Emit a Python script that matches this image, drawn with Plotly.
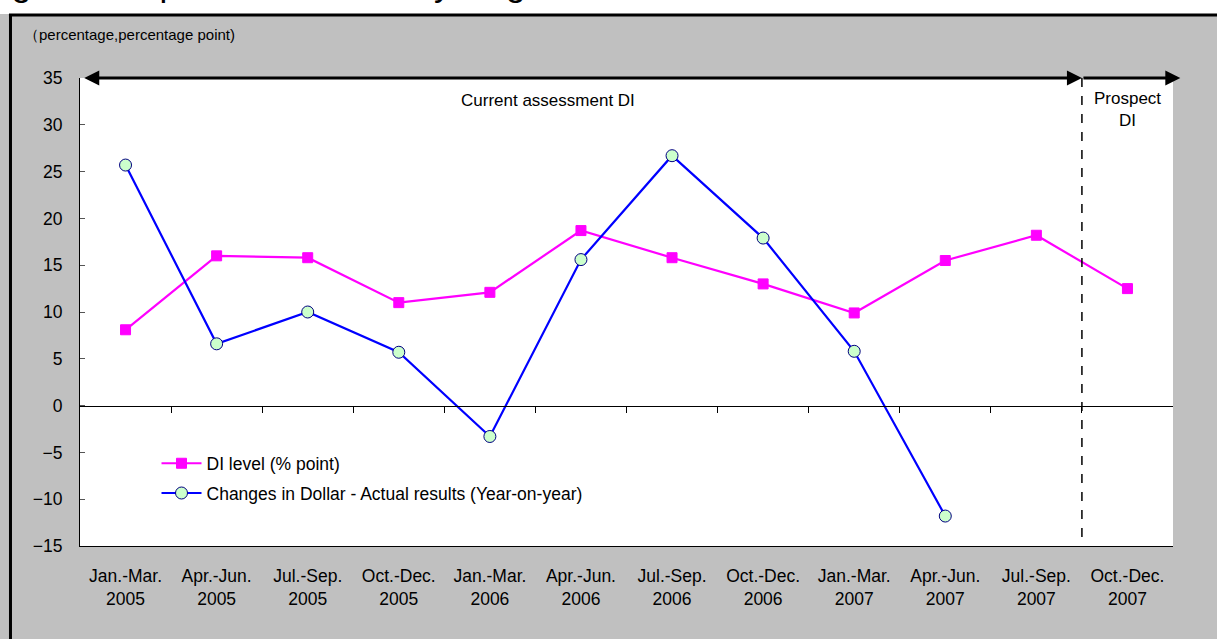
import plotly.graph_objects as go

categories = ["Jan.-Mar.<br>2005", "Apr.-Jun.<br>2005", "Jul.-Sep.<br>2005", "Oct.-Dec.<br>2005",
              "Jan.-Mar.<br>2006", "Apr.-Jun.<br>2006", "Jul.-Sep.<br>2006", "Oct.-Dec.<br>2006",
              "Jan.-Mar.<br>2007", "Apr.-Jun.<br>2007", "Jul.-Sep.<br>2007", "Oct.-Dec.<br>2007"]
di_level = [8.1, 16.0, 15.8, 11.0, 12.1, 18.7, 15.8, 13.0, 9.9, 15.5, 18.2, 12.5]
dollar_changes = [25.7, 6.6, 10.0, 5.7, -3.3, 15.6, 26.7, 17.9, 5.8, -11.8, None, None]
y_ticks = [-15, -10, -5, 0, 5, 10, 15, 20, 25, 30, 35]

FONT = "Arial, Liberation Sans, sans-serif"
xs = list(range(len(categories)))

fig = go.Figure()
fig.add_trace(go.Scatter(
    x=xs, y=di_level, mode="lines+markers", name="DI level (% point)",
    line=dict(color="#FF00FF", width=2.2),
    marker=dict(symbol="square", size=10, color="#FF00FF", line=dict(color="#FF00FF", width=1)),
    legendgroup="a"))
fig.add_trace(go.Scatter(
    x=xs, y=dollar_changes, mode="lines+markers",
    name="Changes in Dollar - Actual results (Year-on-year)",
    line=dict(color="#0000FF", width=2.2),
    marker=dict(symbol="circle", size=12, color="#CCFFCC", line=dict(color="#000080", width=1)),
    legendgroup="b", connectgaps=False))
# invisible trace on overlay axis for zero-line ticks
fig.add_trace(go.Scatter(x=[0], y=[0], xaxis="x2", yaxis="y", mode="markers",
                         marker=dict(opacity=0), showlegend=False, hoverinfo="skip"))

fig.update_layout(
    width=1217, height=639,
    margin=dict(l=80, r=44, t=78, b=93),
    paper_bgcolor="#C0C0C0", plot_bgcolor="#FFFFFF",
    font=dict(family=FONT, size=17.5, color="#000000"),
    showlegend=True,
    legend=dict(x=0.07, y=0.215, xanchor="left", yanchor="top",
                bgcolor="rgba(255,255,255,0)", font=dict(size=17.5, family=FONT),
                itemwidth=40, tracegroupgap=4, traceorder="grouped"),
    xaxis=dict(range=[-0.5, 11.5], tickvals=xs, ticktext=categories, ticks="",
               showgrid=False, zeroline=False, showline=True, linecolor="#000000", linewidth=1,
               ticklabelstandoff=14, tickfont=dict(size=17.5)),
    xaxis2=dict(range=[-0.5, 11.5], overlaying="x", anchor="free", position=0.3,
                tickvals=[i + 0.5 for i in range(11)], showticklabels=False,
                ticks="outside", ticklen=6, tickcolor="#000000", tickwidth=1,
                showgrid=False, zeroline=False, showline=True, linecolor="#000000", linewidth=1),
    yaxis=dict(range=[-15, 35], tickvals=y_ticks, ticks="inside", ticklen=5,
               tickcolor="#555555", showgrid=False, zeroline=False,
               showline=True, linecolor="#000000", linewidth=1,
               ticklabelstandoff=13, tickfont=dict(size=17.5)),
)

shapes = [
    # white strip at very top
    dict(type="rect", xref="paper", yref="paper", x0=-0.2, x1=1.2, y0=1.1368, y1=1.3,
         fillcolor="#FFFFFF", line=dict(width=0), layer="below"),
    # panel border top
    dict(type="line", xref="paper", yref="paper", x0=-0.0650, x1=1.2, y0=1.1346, y1=1.1346,
         line=dict(color="#000000", width=3), layer="below"),
    # panel border left
    dict(type="line", xref="paper", yref="paper", x0=-0.0636, x1=-0.0636, y0=1.1368, y1=-0.3,
         line=dict(color="#000000", width=3), layer="below"),
    # dashed divider
    dict(type="line", xref="x", yref="y", x0=10.5, x1=10.5, y0=35, y1=-15,
         line=dict(color="#000000", width=1.5, dash="dash")),
]
fig.update_layout(shapes=shapes)

annotations = [
    dict(text="Regional Capital Investment by Region", xref="paper", yref="paper",
         x=0.452, y=1.156, xanchor="right", yanchor="bottom", showarrow=False,
         font=dict(size=35, family=FONT)),
    dict(text="（percentage,percentage point)", xref="paper", yref="paper",
         x=-0.053, y=1.092, xanchor="left", yanchor="middle", showarrow=False,
         font=dict(size=15, family=FONT)),
    dict(text="Current assessment DI", xref="x", yref="y", x=4.64, y=32.6,
         showarrow=False, font=dict(size=17, family=FONT)),
    dict(text="Prospect<br>DI", xref="x", yref="y", x=11.0, y=31.6,
         showarrow=False, font=dict(size=17, family=FONT)),
    # double arrow current assessment
    dict(x=10.5, y=35, ax=-0.47, ay=35, xref="x", yref="y", axref="x", ayref="y",
         text="", showarrow=True, arrowhead=2, arrowsize=1, arrowwidth=3,
         arrowcolor="#000000", arrowside="end+start", standoff=0, startstandoff=0),
    # prospect arrow
    dict(x=11.58, y=35, ax=10.5, ay=35, xref="x", yref="y", axref="x", ayref="y",
         text="", showarrow=True, arrowhead=2, arrowsize=1, arrowwidth=3,
         arrowcolor="#000000", arrowside="end", standoff=0),
]
fig.update_layout(annotations=annotations)

fig.write_html("out.html", config={"displayModeBar": False},
               post_script="document.body.style.margin='0';document.body.style.overflow='hidden';")
